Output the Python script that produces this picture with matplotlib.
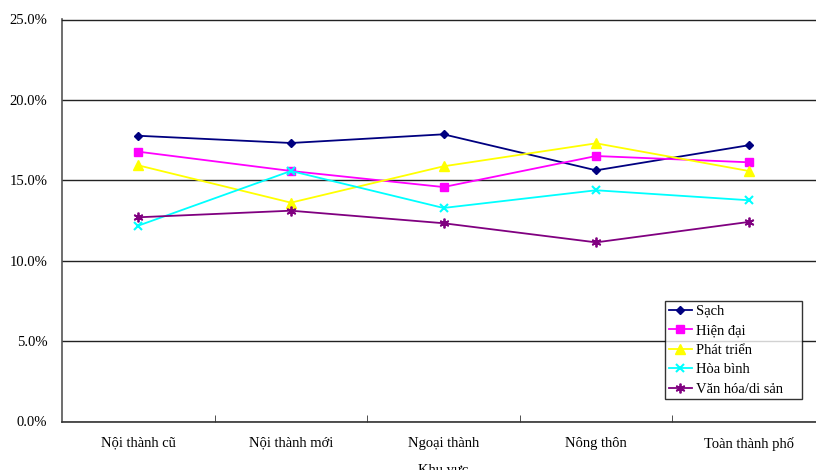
import matplotlib
matplotlib.use("Agg")
import matplotlib.pyplot as plt
from matplotlib.ticker import FuncFormatter, FixedLocator

categories = ["Nội thành cũ", "Nội thành mới", "Ngoại thành", "Nông thôn", "Toàn thành phố"]
sach = [17.77, 17.32, 17.86, 15.62, 17.18]
hien_dai = [16.78, 15.58, 14.58, 16.51, 16.12]
phat_trien = [15.93, 13.61, 15.87, 17.30, 15.58]
hoa_binh = [12.18, 15.58, 13.28, 14.38, 13.76]
van_hoa = [12.70, 13.11, 12.33, 11.14, 12.41]
series_names = ["Sạch", "Hiện đại", "Phát triển", "Hòa bình", "Văn hóa/di sản"]
y_ticks = [0, 5, 10, 15, 20, 25]

plt.rcParams['font.family'] = ['Liberation Serif', 'DejaVu Serif']

fig = plt.figure(figsize=(8.16, 4.70), dpi=100)
ax = fig.add_axes([62/816, 1-421.5/470, (825-62)/816, (421.5-19.5)/470])

x = list(range(len(categories)))
styles = [
    (sach, "#000080", "D", 4.5, None),
    (hien_dai, "#FF00FF", "s", 6, None),
    (phat_trien, "#FFFF00", "^", 6.5, None),
    (hoa_binh, "#00FFFF", "x", 6, 1.5),
    (van_hoa, "#800080", (6, 2, 0), 7, 1.3),
]
for (vals, c, m, ms, mew), name in zip(styles, series_names):
    kw = dict(color=c, marker=m, markersize=ms, linewidth=1.3, label=name,
              markerfacecolor=c, markeredgecolor=c, clip_on=False)
    if mew:
        kw['markeredgewidth'] = mew
    ax.plot(x, vals, **kw)

ax.set_xlim(-0.5, len(categories) - 0.5)
ax.set_ylim(0, 25)
ax.set_yticks(y_ticks)
ax.yaxis.set_major_formatter(FuncFormatter(lambda v, p: f"{v:.1f}%"))
ax.set_xticks(x)
ax.set_xticklabels(categories)
ax.xaxis.set_minor_locator(FixedLocator([i + 0.5 for i in range(len(categories) - 1)]))
ax.tick_params(axis='x', which='major', length=0, pad=11, labelsize=10.5)
ax.tick_params(axis='x', which='minor', direction='in', length=5, color='#333333')
ax.tick_params(axis='y', length=0, pad=10.5, labelsize=10.5)
ax.grid(axis='y', color='#222222', linewidth=1.0)
ax.set_axisbelow(True)
ax.spines['right'].set_visible(False)
ax.spines['top'].set_color('#222222')
ax.spines['top'].set_linewidth(1.0)
ax.spines['left'].set_color('#555555')
ax.spines['bottom'].set_color('#333333')
ax.spines['left'].set_linewidth(1.2)
ax.spines['bottom'].set_linewidth(1.2)
ax.set_xlabel("Khu vực", fontsize=10.5, labelpad=9)

leg = fig.legend(loc='upper left',
                 bbox_to_anchor=(665/816, 1-401/470, 137/816, 100/470),
                 mode='expand', frameon=True,
                 fontsize=10.5, handlelength=1.6, handletextpad=0.3, borderpad=0.25,
                 labelspacing=0.43, fancybox=False, borderaxespad=0)
leg.get_frame().set_edgecolor('black')
leg.get_frame().set_linewidth(1.0)

fig.savefig("out.png", dpi=100)
